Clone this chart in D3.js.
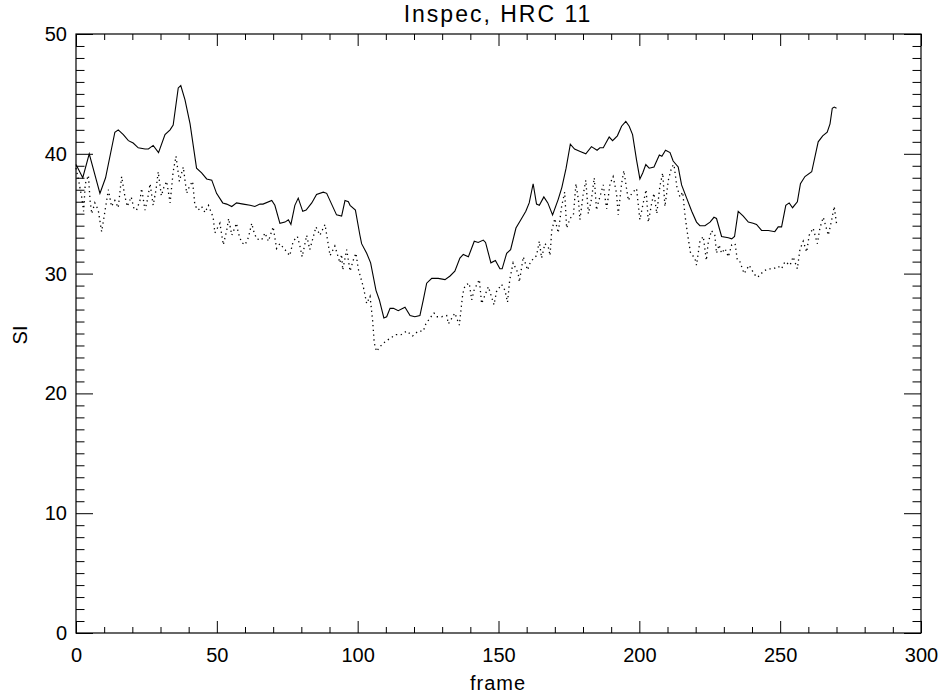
<!DOCTYPE html>
<html>
<head>
<meta charset="utf-8">
<script src="https://cdn.jsdelivr.net/npm/d3@7"></script>
<style>
  html, body { margin: 0; padding: 0; background: #fff; }
  svg { display: block; }
  text { font-family: "Liberation Sans", Arial, sans-serif; fill: #000; }
</style>
</head>
<body>
<svg id="chart" width="943" height="698"></svg>
<script>
// ---- data ----
const titleText = "Inspec, HRC 11";
const xLabel = "frame";
const yLabel = "SI";
const xTicks = [0, 50, 100, 150, 200, 250, 300];
const yTicks = [0, 10, 20, 30, 40, 50];

const solidFrames = [0,2.4,4.7,8.5,10.5,13.8,15,16.8,18.6,20.3,22.1,24.5,25.7,27.4,29.3,31.6,33.4,34.5,36.3,37.2,38.7,40.5,42.8,44.6,46.4,48.2,49.9,52.1,53.5,55.3,57,59.4,61.8,63.5,65.3,66.4,69.5,70.6,72.4,74.2,75.4,76.3,77.7,78.9,80.5,81.7,83.7,85.4,87.8,89,92.5,94.3,95.5,96.7,97.3,99.2,100.8,101.4,103.2,104.6,106.5,107.7,109.3,110.3,111.5,112.7,114.4,116.8,118.6,120.3,122.1,123.3,124.5,126.3,128.6,131,132.8,134.5,136.3,137.5,139.3,141.4,142.8,144.6,145.4,147.3,148.9,150.5,151.3,152.9,154.3,156.2,158.2,159.7,160.9,162.3,163.5,164.5,166.1,167.5,169.2,171.2,172.5,174,175.5,177,179,181,183,185,186,187.2,189.3,190.5,192.2,193.7,195.2,196.4,197.6,199,200.2,201.2,202.3,203.5,205.2,207.1,208,209.3,210.9,212,213.8,215,216.8,218.6,220.3,221.5,223.3,225.1,226.5,227.4,229.2,231.6,232.8,233.8,235.1,236.9,238.7,240.4,241.6,243.4,245.8,248.1,249.3,250.5,252,253.2,254.4,256.1,257.2,258.8,261.2,263.5,265.1,266.7,267.7,268.5,269.2,270];
const solidValues = [39.1,38.0,40.0,36.7,38.0,41.8,42.0,41.6,41.1,40.9,40.5,40.4,40.4,40.7,40.1,41.6,42.0,42.4,45.5,45.7,44.5,42.5,38.8,38.4,37.9,37.8,36.7,35.9,35.8,35.6,35.9,35.8,35.7,35.6,35.8,35.8,36.1,35.7,34.2,34.3,34.5,34.1,35.7,36.3,35.2,35.3,35.9,36.6,36.8,36.7,34.9,34.8,36.1,36.0,35.7,35.3,33.2,32.5,31.7,30.9,28.6,27.8,26.3,26.4,27.1,27.1,26.9,27.2,26.5,26.4,26.5,27.8,29.2,29.6,29.6,29.5,29.8,30.2,31.3,31.6,31.4,32.7,32.6,32.8,32.6,30.9,31.1,30.4,30.4,31.7,32.0,33.8,34.6,35.2,35.9,37.5,35.8,35.7,36.4,35.9,34.9,36.2,37.2,38.8,40.8,40.4,40.2,40.0,40.6,40.3,40.5,40.5,41.4,41.1,41.5,42.3,42.7,42.3,41.6,39.5,37.9,38.4,39.1,38.8,38.9,39.9,39.8,40.3,40.1,39.4,38.9,37.4,36.3,35.2,34.3,34.0,34.0,34.3,34.7,34.6,33.1,33.0,32.9,33.1,35.2,34.8,34.3,34.2,34.1,33.6,33.6,33.5,33.9,33.9,35.7,35.9,35.5,36.0,37.5,38.1,38.5,41.0,41.5,41.8,42.5,43.8,43.9,43.8];

const dottedFrames = [0,1,2,2.7,3.3,4.4,5,5.6,6.7,7.9,9.1,9.8,11.5,12.6,13.8,15,16.2,17.4,18.2,19.6,20.6,21.5,22.7,23.3,24.5,25.4,26.3,27.4,28.4,29.2,30.3,31.2,32.2,33.4,34.5,35.5,36.7,38.1,39.3,40.3,41.4,42.2,43.4,44.6,45.8,47,48.7,49.3,51.1,52.3,53.5,54.2,55.3,57,57.6,58.8,60,61.2,62.4,63,64.1,65.9,67.1,68.3,70,71.2,72.4,74.2,75.9,77.1,78.6,79.5,80.3,81.9,83,85.2,86.6,88.4,90.2,91.9,93.7,94.3,94.7,96.1,97.3,98.4,99.4,100.2,102,103.2,104.4,105.3,105.9,106.7,107.9,109.7,111.5,113.6,115.4,117.4,119.5,121.5,123.3,124.2,125.7,127.1,128,129.8,131.6,132.2,134.5,136.1,137.3,138.1,139.6,140.5,141.3,143.2,144,145.2,146.4,148.4,149.3,151.1,152.3,153.2,154,155.2,157,157.4,158.8,160.3,161.4,163.5,164.5,165.3,166.5,167.7,168.3,168.9,170,171.2,172.4,173.5,174.2,175.4,176.6,177.5,178.4,178.9,180,181,181.9,183,184,184.8,185.5,187.2,188.4,189.6,190.7,191.9,192.5,193.7,194.5,196.1,197.3,199,200.2,201.4,202.4,203.2,204.4,205.2,206.2,207.3,208.3,209.1,210.3,211.5,212.3,213.3,214.4,215.4,216.2,217,218.2,219.7,220.3,221.5,222.7,223.8,224.4,225.6,226.8,227.4,228.3,229.2,230.4,231.6,232.8,234,234.8,235.7,237.2,239,240.2,241.6,242.6,244,245.8,247.6,249.3,250.5,251.7,253.5,254.6,256.1,257,258.2,259.4,260.3,261.7,263.2,264.1,265.3,267.1,268.3,269.2,270];
const dottedValues = [38.8,37.7,36.4,35.2,37.5,38.2,36.1,35.0,35.9,35.3,33.5,34.5,37.0,35.6,36.1,35.5,38.1,36.4,35.6,36.4,35.4,35.3,36.1,37.1,35.3,36.2,37.5,35.7,37.0,38.5,36.5,37.2,37.7,35.9,38.5,39.8,37.7,38.9,36.7,37.3,37.7,35.7,35.3,35.6,35.1,35.7,34.7,33.4,34.2,32.4,33.6,34.6,33.2,34.2,33.4,32.6,32.4,33.0,34.2,33.6,32.9,32.8,33.4,32.7,33.9,32.1,32.5,32.0,31.5,32.7,33.1,32.3,31.4,33.2,32.0,33.9,33.2,34.1,31.5,32.3,30.9,31.6,30.3,32.0,30.2,31.1,31.7,30.4,28.9,27.5,28.1,26.1,24.2,23.5,23.9,24.3,24.6,24.9,24.9,25.2,24.8,25.2,25.2,25.8,26.3,26.7,26.4,26.4,26.5,25.8,26.7,25.7,28.3,29.0,29.2,27.8,28.6,29.5,27.5,28.2,28.9,27.4,28.5,29.1,28.6,27.6,29.5,30.9,30.0,29.3,31.4,30.3,31.0,31.5,32.7,31.3,32.5,32.2,31.5,33.6,34.6,33.4,35.6,36.8,33.8,34.6,34.9,37.5,36.1,34.5,36.5,37.8,35.0,36.2,38.0,35.3,36.0,37.4,35.4,37.5,38.1,36.7,34.9,37.5,38.6,36.1,36.7,37.1,34.5,35.9,37.0,34.3,35.9,36.7,35.0,37.3,38.4,35.6,37.8,38.9,39.1,37.3,36.4,36.8,34.9,33.5,31.7,31.3,30.7,32.7,33.1,31.1,32.5,33.6,33.2,31.7,32.4,31.7,32.1,31.4,32.4,32.5,31.1,31.0,30.0,30.7,30.2,29.7,29.8,30.2,30.4,30.4,30.6,30.4,31.0,30.7,31.4,30.4,32.0,32.7,31.8,33.2,33.8,32.5,33.8,34.7,33.2,34.5,35.6,34.2];

// ---- layout ----
const W = 943, H = 698;
const plot = { left: 76, top: 34, right: 921, bottom: 633 };

const svg = d3.select("#chart");
const x = d3.scaleLinear().domain([0, 300]).range([plot.left, plot.right]);
const y = d3.scaleLinear().domain([0, 50]).range([plot.bottom, plot.top]);

const xMinor = d3.range(0, 301, 10).filter(v => v % 50 !== 0);
const yMinor = d3.range(0, 51, 1).filter(v => v % 10 !== 0);

function axisGroup(axisGen, tx, ty, showLabels) {
  const g = svg.append("g").attr("transform", `translate(${tx},${ty})`).call(axisGen);
  g.select(".domain").remove();
  g.selectAll("line").attr("stroke", "#000").attr("stroke-width", 1);
  if (!showLabels) g.selectAll("text").remove();
  else g.selectAll("text").attr("font-size", 20).attr("fill", "#000");
  return g;
}

// bottom axis: major labelled + minor
axisGroup(d3.axisBottom(x).tickValues(xTicks).tickSize(-12).tickPadding(15).tickFormat(d3.format("d")), 0, plot.bottom, true);
axisGroup(d3.axisBottom(x).tickValues(xMinor).tickSize(-6).tickFormat(""), 0, plot.bottom, false);
// top axis
axisGroup(d3.axisTop(x).tickValues(xTicks).tickSize(-12).tickFormat(""), 0, plot.top, false);
axisGroup(d3.axisTop(x).tickValues(xMinor).tickSize(-6).tickFormat(""), 0, plot.top, false);
// left axis
axisGroup(d3.axisLeft(y).tickValues(yTicks).tickSize(-17).tickPadding(9).tickFormat(d3.format("d")), plot.left, 0, true);
axisGroup(d3.axisLeft(y).tickValues(yMinor).tickSize(-8.5).tickFormat(""), plot.left, 0, false);
// right axis
axisGroup(d3.axisRight(y).tickValues(yTicks).tickSize(-17).tickFormat(""), plot.right, 0, false);
axisGroup(d3.axisRight(y).tickValues(yMinor).tickSize(-8.5).tickFormat(""), plot.right, 0, false);

// frame
svg.append("rect")
  .attr("x", plot.left).attr("y", plot.top)
  .attr("width", plot.right - plot.left).attr("height", plot.bottom - plot.top)
  .attr("fill", "none").attr("stroke", "#000").attr("stroke-width", 1.2);

// lines
const line = d3.line().x(d => x(d[0])).y(d => y(d[1]));
const solidData = solidFrames.map((f, i) => [f, solidValues[i]]);
const dottedData = dottedFrames.map((f, i) => [f, dottedValues[i]]);

svg.append("path").datum(solidData)
  .attr("d", line).attr("fill", "none").attr("stroke", "#000").attr("stroke-width", 1.1);
svg.append("path").datum(dottedData)
  .attr("d", line).attr("fill", "none").attr("stroke", "#000").attr("stroke-width", 1.3)
  .attr("stroke-dasharray", "1.3,3.5");

// titles
svg.append("text").attr("x", 498).attr("y", 22).attr("text-anchor", "middle")
  .attr("font-size", 23).attr("letter-spacing", 2).text(titleText);
svg.append("text").attr("x", 498).attr("y", 690).attr("text-anchor", "middle")
  .attr("font-size", 20).attr("letter-spacing", 1).text(xLabel);
svg.append("text").attr("transform", "translate(27,335) rotate(-90)").attr("text-anchor", "middle")
  .attr("font-size", 20).text(yLabel);
</script>
</body>
</html>
